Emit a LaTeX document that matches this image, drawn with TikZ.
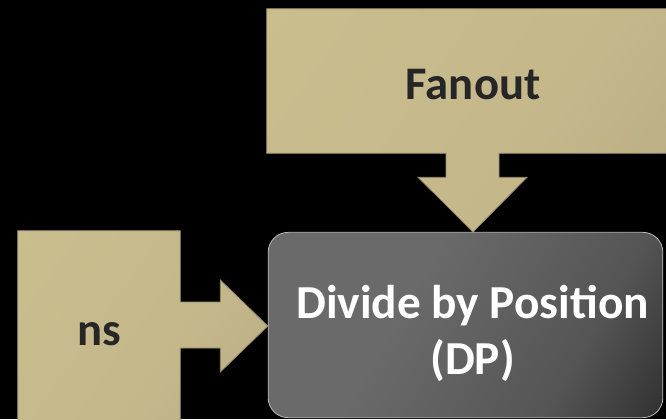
\documentclass[tikz,border=0pt]{standalone}
\usepackage{fontspec}
\setmainfont{Carlito}
\usetikzlibrary{calc}
\definecolor{tanlight}{RGB}{204,191,143}
\definecolor{tanmid}{RGB}{196,183,138}
\definecolor{tandark}{RGB}{176,164,126}
\definecolor{tanedge}{RGB}{150,140,105}
\definecolor{dpgray}{RGB}{106,106,106}
\definecolor{dpdark}{RGB}{14,14,14}
\pgfdeclarehorizontalshading{tanshade}{100bp}{color(0bp)=(tanlight); color(60bp)=(tanmid); color(100bp)=(tandark)}
\pgfdeclarehorizontalshading{dpshade}{100bp}{color(0bp)=(dpgray); color(40bp)=(dpgray); color(68bp)=(dpgray!80!black); color(100bp)=(dpdark)}
\begin{document}
\begin{tikzpicture}[x=0.75pt,y=0.75pt,yscale=-1,xscale=1,
  blocklabel/.style={inner sep=0pt,font=\bfseries\fontsize{35}{40}\selectfont,text=black!85},
  blockfill/.style={draw=tanedge,line width=0.6pt,shading=tanshade,shading angle=-35}]
%set diagram size to the reference
\useasboundingbox[fill=black] (0,0) rectangle (666,419);
\clip (0,0) rectangle (666,419);

%Shape: Rounded Rect [id:dp] 
\node (dp) [draw=gray!55,line width=0.6pt,rounded corners=15pt,shading=dpshade,shading angle=-30,
  minimum width=296pt,minimum height=139pt,inner sep=0pt] at (465.5,325) {};
\node (dptext) at ($(dp)+(7,8)$) [align=center,text=white,inner sep=0pt,
  font=\bfseries\fontsize{35.5}{42}\selectfont] {Divide by Position\\(DP)};

%Shape: Block Arrow [id:fanout] 
\node (fanout) [inner sep=0pt,minimum width=309pt,minimum height=108pt] at (473,81) {};
\path[blockfill] (fanout.north west) -- (fanout.north east) -- (fanout.south east)
  -- ($(fanout.south)+(26,0)$) -- ++(0,24) -- ++(28,0) -- (fanout.south |- dp.north)
  -- ($(fanout.south)+(-55,24)$) -- ++(28,0) -- ++(0,-24) -- (fanout.south west) -- cycle;
\node (fanouttext) at ($(fanout)+(0,4)$) [blocklabel] {Fanout};

%Shape: Block Arrow [id:ns] 
\node (ns) [inner sep=0pt,minimum width=121.5pt,minimum height=150pt] at (99,331) {};
\path[blockfill] (ns.north west) -- (ns.north east) -- ($(ns.east)+(0,-29)$) -- ++(40,0)
  -- ++(0,-22) -- (dp.west |- {$(ns.east)+(0,-5)$}) -- ($(ns.east)+(40,41)$) -- ++(0,-24)
  -- ++(-40,0) -- (ns.south east) -- (ns.south west) -- cycle;
\node (nstext) at ($(ns)+(0,3)$) [blocklabel] {ns};

\end{tikzpicture}
\end{document}
